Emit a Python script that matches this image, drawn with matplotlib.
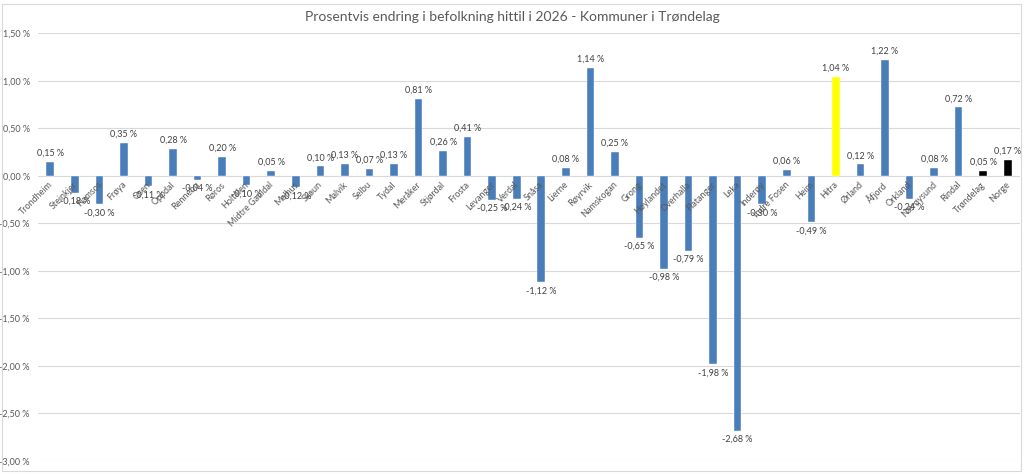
import matplotlib
matplotlib.use("Agg")
import matplotlib.pyplot as plt
from matplotlib.patches import Rectangle

plt.rcParams['font.family'] = ['Lato', 'DejaVu Sans']

categories = ["Trondheim", "Steinkjer", "Namsos", "Frøya", "Osen", "Oppdal", "Rennebu", "Røros",
              "Holtålen", "Midtre Gauldal", "Melhus", "Skaun", "Malvik", "Selbu", "Tydal",
              "Meråker", "Stjørdal", "Frosta", "Levanger", "Verdal", "Snåsa", "Lierne", "Røyrvik",
              "Namskogan", "Grong", "Høylandet", "Overhalla", "Flatanger", "Leka", "Inderøy",
              "Indre Fosen", "Heim", "Hitra", "Ørland", "Åfjord", "Orkland", "Nærøysund",
              "Rindal", "Trøndelag", "Norge"]
values = [0.15, -0.18, -0.30, 0.35, -0.11, 0.28, -0.04, 0.20,
          -0.10, 0.05, -0.12, 0.10, 0.13, 0.07, 0.13,
          0.81, 0.26, 0.41, -0.25, -0.24, -1.12, 0.08, 1.14,
          0.25, -0.65, -0.98, -0.79, -1.98, -2.68, -0.30,
          0.06, -0.49, 1.04, 0.12, 1.22, -0.24, 0.08,
          0.72, 0.05, 0.17]
highlight = {"Hitra": "#FFFF00", "Trøndelag": "#000000", "Norge": "#000000"}
yticks = [1.5, 1.0, 0.5, 0.0, -0.5, -1.0, -1.5, -2.0, -2.5, -3.0]
title = "Prosentvis endring i befolkning hittil i 2026 - Kommuner i Trøndelag"

def pct(v):
    return f"{v:.2f} %".replace(".", ",")

W, H = 1024, 474
fig = plt.figure(figsize=(W / 100, H / 100), dpi=100)
fig.patches.append(Rectangle((2 / W, 3 / H), 1 - 5 / W, 1 - 7 / H, transform=fig.transFigure,
                             fill=False, edgecolor="#D9D9D9", lw=0.8))
ax = fig.add_axes([38 / W, 1 - 461 / H, (1020 - 38) / W, (461 - 33.3) / H])

x = list(range(len(categories)))
colors = [highlight.get(c, "#4A7EBB") for c in categories]
ax.bar(x, values, width=0.31, color=colors, edgecolor="white", linewidth=0.3, zorder=3)

ax.set_xlim(-0.5, len(categories) - 0.5)
ax.set_ylim(min(yticks), max(yticks))
ax.set_yticks(yticks)
ax.set_yticklabels([pct(t) for t in yticks], fontsize=6.5, color="#595959")
ax.tick_params(axis="y", length=0, pad=6)
ax.set_xticks([])
ax.yaxis.grid(True, color="#D9D9D9", lw=0.8, zorder=0)
ax.set_axisbelow(True)
for s in ax.spines.values():
    s.set_visible(False)

for xi, v, c in zip(x, values, categories):
    if v >= 0:
        ax.annotate(pct(v), (xi, v), xytext=(0, 3), textcoords="offset points",
                    ha="center", va="bottom", fontsize=6.5, color="#404040", zorder=4)
    else:
        ax.annotate(pct(v), (xi, v), xytext=(0, -3), textcoords="offset points",
                    ha="center", va="top", fontsize=6.5, color="#404040", zorder=4)
    ax.annotate(c, (xi, 0), xytext=(3, -3), textcoords="offset points",
                ha="right", va="top", rotation=45, fontsize=6.5, color="#595959", zorder=4)

fig.text(0.5, 1 - 17 / H, title, ha="center", va="center", fontsize=10, color="#595959")

fig.savefig("out.png", dpi=100)
